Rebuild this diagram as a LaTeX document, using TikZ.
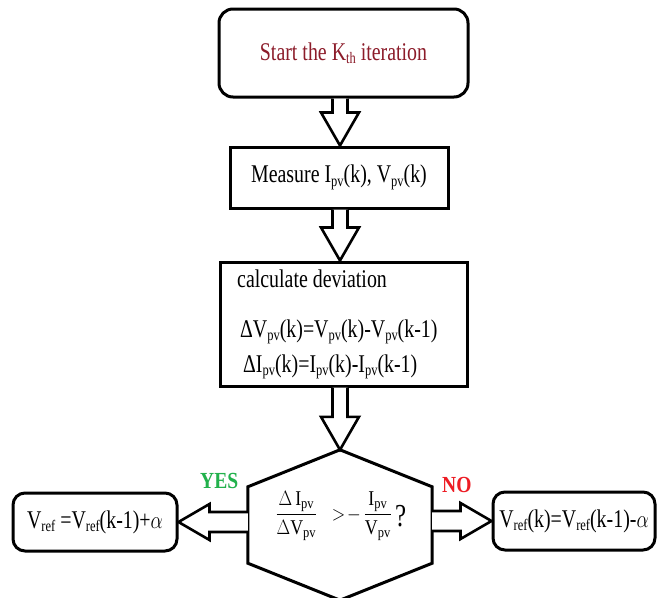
\documentclass[tikz,border=0pt]{standalone}
\usepackage{fontspec}
\setmainfont{Liberation Serif}
\usepackage{amsmath}
\usepackage{graphicx}
\usetikzlibrary{calc}
\definecolor{startred}{RGB}{140,28,42}
\definecolor{yesgreen}{RGB}{34,177,76}
\definecolor{nored}{RGB}{237,28,36}
\newcommand\sbx[1]{\raisebox{-0.3ex}{\fontsize{16}{17}\selectfont #1}}
\newcommand\narrow[1]{\scalebox{0.78}[1]{#1}}
\newcommand\downarr[2]{\draw[blk] let \p1=(#1), \p2=(#2) in
  (\x2-7.5pt,\y1) -- (\x2-7.5pt,\y2+33pt) -- (\x2-19pt,\y2+33pt) -- (\p2)
  -- (\x2+19pt,\y2+33pt) -- (\x2+7.5pt,\y2+33pt) -- (\x2+7.5pt,\y1);}
\newcommand\sidearr[2]{\draw[blk] let \p1=(#1), \p2=(#2), \n1={\x2-31pt*sign(\x2-\x1)} in
  (\x1,\y2+10pt) -- (\n1,\y2+10pt) -- (\n1,\y2+18pt) -- (\p2)
  -- (\n1,\y2-18pt) -- (\n1,\y2-10pt) -- (\x1,\y2-10pt);}
\tikzset{
  txt/.style={font=\fontsize{25.5}{28}\selectfont, inner sep=0pt},
  sqbox/.style={draw, line width=3pt, fill=white, txt},
  rbox/.style={sqbox, rounded corners=14pt},
  blk/.style={draw, line width=2.6pt, fill=white, line join=miter},
  lab/.style={font=\fontsize{23}{26}\selectfont\bfseries, inner sep=0pt, anchor=base west},
}
\begin{document}
\begin{tikzpicture}[x=1pt,y=-1pt]
\clip (0,0) rectangle (657,598);
\fill[white] (0,0) rectangle (657,598);
% nodes
\node[rbox, minimum width=249pt, minimum height=88pt, text=startred] (start) at (343.5,53)
  {\narrow{Start the K\sbx{th} iteration}};
\node[sqbox, minimum width=218pt, minimum height=61pt] (meas) at (339,177.5)
  {\narrow{Measure I\sbx{pv}(k), V\sbx{pv}(k)}};
\node[sqbox, minimum width=247pt, minimum height=124pt] (calc) at (343.5,324) {};
\node[txt, anchor=base west] (c1) at (237,287) {\narrow{calculate deviation}};
\node[txt, anchor=base west] (c2) at (240,337) {\narrow{ΔV\sbx{pv}(k)=V\sbx{pv}(k)-V\sbx{pv}(k-1)}};
\node[txt, anchor=base west] (c3) at (243,372) {\narrow{ΔI\sbx{pv}(k)=I\sbx{pv}(k)-I\sbx{pv}(k-1)}};
\node[minimum width=184pt, minimum height=150pt, inner sep=0pt] (dec) at (340,525) {};
\draw[line width=3pt, line join=miter] (dec.north) -- ($(dec.north east)+(0,37)$) -- ($(dec.south east)+(0,-37)$)
  -- (dec.south) -- ($(dec.south west)+(0,-37)$) -- ($(dec.north west)+(0,37)$) -- cycle;
\node[inner sep=0pt, font=\fontsize{21}{23}\selectfont] (cond) at (341,516)
  {\scalebox{0.85}[1]{$\dfrac{\Delta\,\mathrm{I}_{\mathrm{pv}}}{\Delta\mathrm{V}_{\mathrm{pv}}}\;\;>\!-\,\dfrac{\mathrm{I}_{\mathrm{pv}}}{\mathrm{V}_{\mathrm{pv}}}$}\,\raisebox{-6pt}{\fontsize{32}{33}\selectfont\narrow{?}}};
\node[rbox, minimum width=164pt, minimum height=58pt, rounded corners=12pt] (yesbox) at (95,522)
  {\narrow{V\sbx{ref} =V\sbx{ref}(k-1)+$\alpha$}};
\node[rbox, minimum width=162pt, minimum height=58pt, rounded corners=12pt] (nobox) at (574,521)
  {\narrow{V\sbx{ref}(k)=V\sbx{ref}(k-1)-$\alpha$}};
\node[lab, text=yesgreen] (yes) at (200,488) {\scalebox{0.85}[1]{YES}};
\node[lab, text=nored] (no) at (442,492) {\scalebox{0.85}[1]{NO}};
% connectors
\downarr{start.south}{meas.north -| dec.north}
\downarr{meas.south}{calc.north -| dec.north}
\downarr{calc.south}{dec.north}
\sidearr{yesbox.east -| dec.west}{yesbox.east}
\sidearr{nobox.west -| dec.east}{nobox.west}
\end{tikzpicture}
\end{document}
